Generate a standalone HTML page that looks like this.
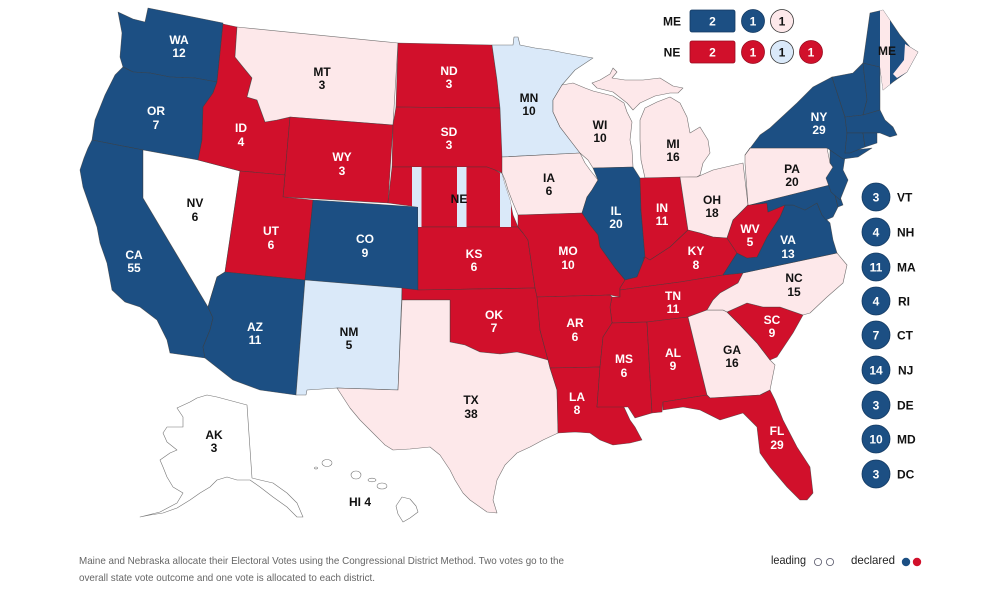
<!DOCTYPE html>
<html><head><meta charset="utf-8"><style>
html,body{margin:0;padding:0;background:#fff;width:1000px;height:595px;overflow:hidden}
svg{display:block}
.b{fill:#1c4f83}.r{fill:#d1102b}.p{fill:#fde8ea}.l{fill:#dae9f9}.w{fill:#fff}
.st polygon,.st rect,.st ellipse{stroke:#3a3a3a;stroke-width:0.6;stroke-opacity:0.7;stroke-linejoin:round}
text{font-family:"Liberation Sans",Arial,sans-serif}
.lb text{font-size:12px;font-weight:bold;text-anchor:middle}
.wt{fill:#fff}.bt{fill:#111}
</style></head><body>
<svg width="1000" height="595" viewBox="0 0 1000 595" xmlns="http://www.w3.org/2000/svg">
<defs>
<clipPath id="neclip"><polygon points="392,167 487,167 495,170 502,174 505,185 510,200 513,215 518,227 418,227 418,207 388,203"/></clipPath>
<clipPath id="meclip"><polygon points="863,63 870,13 883,10 900,35 910,47 918,52 907,72 893,82 883,90 880,67"/></clipPath>
</defs>
<g class="st">
<!-- West -->
<polygon class="b" points="118,12 133,19 145,22 148,8 223,23 217,82 195,78 170,77 150,73 133,72 123,67 120,57 122,33"/>
<polygon class="b" points="123,67 133,72 150,73 170,77 195,78 217,82 213,93 203,107 202,140 198,160 143,150 92,140 95,120 105,95 115,75"/>
<polygon class="b" points="92,140 143,150 143,198 208,307 213,318 210,330 203,347 205,358 170,353 167,340 157,320 140,307 125,302 112,290 107,263 100,243 97,227 90,207 83,187 80,170 84,158 88,148"/>
<polygon class="w" points="143,150 198,160 240,171 225,272 217,277 210,300 208,307 143,198"/>
<polygon class="r" points="223,24 237,27 235,57 243,67 252,78 247,97 257,100 265,122 277,120 290,117 285,175 240,171 198,160 202,140 203,107 213,93 217,82"/>
<polygon class="p" points="237,27 398,43 393,125 290,117 277,120 265,122 257,100 247,97 252,78 243,67 235,57"/>
<polygon class="r" points="290,117 393,125 388,203 283,197"/>
<polygon class="r" points="240,171 285,175 283,197 313,200 305,280 225,272"/>
<polygon class="b" points="313,200 418,207 418,290 305,280"/>
<polygon class="b" points="225,272 305,280 296,395 260,390 233,380 205,358 203,347 210,330 213,318 208,307 210,300 217,277"/>
<polygon class="l" points="305,280 402,288 398,390 337,388 307,390 306,395 296,395"/>
<!-- Plains -->
<polygon class="r" points="398,43 492,45 497,80 500,108 396,107"/>
<polygon class="r" points="396,107 500,108 502,120 503,160 502,173 495,170 487,167 392,167 393,125"/>
<polygon class="r" points="392,167 487,167 495,170 502,174 505,185 510,200 513,215 518,227 418,227 418,207 388,203"/>
<polygon class="r" points="418,227 518,227 523,233 528,240 535,288 418,290"/>
<polygon class="r" points="402,288 418,290 535,288 537,295 540,330 548,360 530,355 517,352 500,354 480,352 465,345 450,342 450,300 402,300"/>
<polygon class="p" points="402,300 450,300 450,342 465,345 480,352 500,354 517,352 530,355 548,360 550,368 557,390 558,433 543,440 530,447 517,453 505,465 497,480 493,500 497,513 487,512 470,500 463,493 455,480 450,470 440,455 430,447 410,449 393,450 385,445 377,437 368,428 360,420 350,408 337,388 398,390"/>
<!-- Midwest -->
<polygon class="l" points="492,45 513,45 514,37 518,37 520,45 535,48 550,50 565,53 593,58 575,70 562,85 553,100 553,112 560,127 570,140 580,153 502,157 500,108 497,80"/>
<polygon class="p" points="502,157 580,153 585,163 590,170 598,180 592,190 587,197 582,213 518,215 513,203 508,190 505,180 502,173"/>
<polygon class="p" points="562,85 573,83 585,88 593,91 613,96 624,103 627,112 632,122 630,140 632,150 633,167 593,168 588,160 580,153 570,140 560,127 553,112 553,100"/>
<polygon class="p" points="592,83 600,80 610,74 613,68 617,72 612,78 625,80 643,80 660,78 673,86 683,88 678,93 670,93 655,96 640,103 633,110 627,103 613,92 597,88"/>
<polygon class="p" points="645,108 657,102 670,97 680,103 687,117 690,133 700,127 708,140 710,153 703,163 700,175 697,177 645,178 641,160 640,140 640,120"/>
<polygon class="b" points="593,168 633,167 640,178 641,210 645,257 637,277 625,280 615,268 600,247 598,235 590,225 582,213 587,197 592,190 598,180"/>
<polygon class="r" points="640,178 680,177 688,230 670,247 650,260 643,258 645,257 641,210"/>
<polygon class="p" points="680,177 697,177 713,170 743,163 748,205 733,220 727,238 713,237 700,233 688,230"/>
<polygon class="r" points="518,215 582,213 590,225 598,235 600,247 615,268 625,280 620,288 620,297 610,295 537,297 535,288 528,240 523,233 518,227"/>
<!-- South -->
<polygon class="r" points="650,260 670,247 688,230 700,233 713,237 727,238 737,253 723,275 680,282 620,290 620,288 625,280 637,277 645,257"/>
<polygon class="r" points="620,290 680,282 723,275 743,273 738,283 720,293 713,300 707,310 688,317 647,322 612,323 610,307 612,297 620,297"/>
<polygon class="r" points="537,297 610,295 612,297 610,307 612,323 603,337 600,367 550,368 548,360 540,330"/>
<polygon class="r" points="550,368 600,367 597,407 623,405 630,420 635,427 642,440 630,443 613,445 600,440 590,433 575,432 558,433 557,390"/>
<polygon class="r" points="612,323 647,322 652,413 635,418 628,407 597,407 600,367 603,337"/>
<polygon class="r" points="647,322 688,317 707,395 663,402 662,412 652,413"/>
<polygon class="p" points="688,317 707,310 723,310 727,312 740,325 757,343 770,360 775,365 770,390 760,395 710,398 707,395"/>
<polygon class="r" points="663,402 707,395 710,398 760,395 770,390 775,400 783,420 797,447 810,467 813,493 807,500 800,500 787,487 770,467 760,453 757,427 743,413 720,420 700,410 683,407 663,410"/>
<polygon class="r" points="727,312 747,303 763,307 780,307 803,315 793,333 777,357 770,360 757,343 740,325"/>
<polygon class="p" points="743,273 837,253 847,265 843,283 827,297 810,313 803,315 780,307 763,307 747,303 727,312 723,310 707,310 713,300 720,293 738,283"/>
<polygon class="b" points="723,275 737,253 747,258 757,257 767,237 780,217 785,205 793,205 805,210 817,203 822,215 830,223 833,240 837,253 743,273"/>
<polygon class="r" points="727,238 733,220 748,205 767,203 768,212 785,205 780,217 767,237 757,257 747,258 737,253"/>
<!-- Northeast -->
<polygon class="p" points="745,163 745,155 750,148 827,148 830,163 837,173 830,185 750,205 748,205"/>
<polygon class="b" points="750,205 830,185 835,195 838,207 833,217 826,220 822,215 817,203 805,210 793,205 785,205 768,212 767,203"/>
<polygon class="b" points="830,185 837,188 843,205 838,207 835,195"/>
<polygon class="b" points="830,150 845,157 843,170 848,180 840,200 831,192 826,178 833,167 830,163"/>
<polygon class="b" points="745,155 760,135 770,128 797,103 813,87 832,77 845,117 847,133 845,153 855,150 872,148 858,157 843,159 830,150 827,148 750,148"/>
<polygon class="b" points="832,77 853,73 863,63 867,100 863,115 845,117"/>
<polygon class="b" points="863,63 880,67 880,110 870,113 863,115 867,100"/>
<polygon class="b" points="863,63 870,13 883,10 900,35 910,47 918,52 907,72 893,82 883,90 880,67"/>
<polygon class="b" points="845,117 863,115 870,113 880,110 885,120 893,127 897,135 890,137 880,133 847,133"/>
<polygon class="b" points="847,133 863,133 865,147 850,153 845,153"/>
<polygon class="b" points="863,133 877,133 877,143 865,147"/>
<!-- AK / HI -->
<polygon class="w" points="207,395 217,397 247,405 252,478 260,480 273,483 287,493 297,503 303,517 297,517 287,507 273,497 260,487 250,480 237,480 227,477 217,480 210,487 200,493 190,500 177,508 163,513 150,515 140,517 160,512 177,503 183,493 173,487 167,477 163,467 160,460 170,453 177,450 167,442 163,433 167,427 183,427 183,417 177,408 190,402 197,398"/>
<ellipse class="w" cx="316" cy="468" rx="1.5" ry="1"/>
<ellipse class="w" cx="327" cy="463" rx="5" ry="3.5"/>
<ellipse class="w" cx="356" cy="475" rx="5" ry="4"/>
<ellipse class="w" cx="372" cy="480" rx="4" ry="1.8"/>
<ellipse class="w" cx="382" cy="486" rx="5" ry="3"/>
<polygon class="w" points="402,497 410,499 416,506 418,512 410,518 403,522 398,514 396,506"/>
</g>
<!-- District stripes -->
<g clip-path="url(#neclip)">
<rect x="412" y="160" width="9.5" height="75" class="l"/>
<rect x="457" y="160" width="9.5" height="75" class="l"/>
<rect x="500" y="160" width="11" height="75" class="l"/>
</g>
<g clip-path="url(#meclip)">
<rect x="880" y="0" width="10" height="100" class="p"/>
<polygon class="p" points="905,44 918,52 907,72 897,78 893,74 904,60"/>
</g>
<!-- Labels -->
<g class="lb">
<text class="wt" x="179" y="44">WA</text><text class="wt" x="179" y="57">12</text>
<text class="wt" x="156" y="115">OR</text><text class="wt" x="156" y="129">7</text>
<text class="wt" x="134" y="259">CA</text><text class="wt" x="134" y="272">55</text>
<text class="bt" x="195" y="207">NV</text><text class="bt" x="195" y="221">6</text>
<text class="wt" x="241" y="132">ID</text><text class="wt" x="241" y="146">4</text>
<text class="bt" x="322" y="76">MT</text><text class="bt" x="322" y="89">3</text>
<text class="wt" x="342" y="161">WY</text><text class="wt" x="342" y="175">3</text>
<text class="wt" x="271" y="235">UT</text><text class="wt" x="271" y="249">6</text>
<text class="wt" x="365" y="243">CO</text><text class="wt" x="365" y="257">9</text>
<text class="wt" x="255" y="331">AZ</text><text class="wt" x="255" y="344">11</text>
<text class="bt" x="349" y="336">NM</text><text class="bt" x="349" y="349">5</text>
<text class="wt" x="449" y="75">ND</text><text class="wt" x="449" y="88">3</text>
<text class="wt" x="449" y="136">SD</text><text class="wt" x="449" y="149">3</text>
<text class="bt" x="459" y="203">NE</text>
<text class="wt" x="474" y="258">KS</text><text class="wt" x="474" y="271">6</text>
<text class="wt" x="494" y="319">OK</text><text class="wt" x="494" y="332">7</text>
<text class="bt" x="471" y="404">TX</text><text class="bt" x="471" y="418">38</text>
<text class="bt" x="529" y="102">MN</text><text class="bt" x="529" y="115">10</text>
<text class="bt" x="549" y="182">IA</text><text class="bt" x="549" y="195">6</text>
<text class="wt" x="568" y="255">MO</text><text class="wt" x="568" y="269">10</text>
<text class="wt" x="575" y="327">AR</text><text class="wt" x="575" y="341">6</text>
<text class="wt" x="577" y="401">LA</text><text class="wt" x="577" y="414">8</text>
<text class="bt" x="600" y="129">WI</text><text class="bt" x="600" y="142">10</text>
<text class="wt" x="616" y="215">IL</text><text class="wt" x="616" y="228">20</text>
<text class="bt" x="673" y="148">MI</text><text class="bt" x="673" y="161">16</text>
<text class="wt" x="662" y="212">IN</text><text class="wt" x="662" y="225">11</text>
<text class="bt" x="712" y="204">OH</text><text class="bt" x="712" y="217">18</text>
<text class="wt" x="696" y="255">KY</text><text class="wt" x="696" y="269">8</text>
<text class="wt" x="673" y="300">TN</text><text class="wt" x="673" y="313">11</text>
<text class="wt" x="624" y="363">MS</text><text class="wt" x="624" y="377">6</text>
<text class="wt" x="673" y="357">AL</text><text class="wt" x="673" y="370">9</text>
<text class="bt" x="732" y="354">GA</text><text class="bt" x="732" y="367">16</text>
<text class="wt" x="777" y="435">FL</text><text class="wt" x="777" y="449">29</text>
<text class="wt" x="772" y="324">SC</text><text class="wt" x="772" y="337">9</text>
<text class="bt" x="794" y="282">NC</text><text class="bt" x="794" y="296">15</text>
<text class="wt" x="788" y="244">VA</text><text class="wt" x="788" y="258">13</text>
<text class="wt" x="750" y="233">WV</text><text class="wt" x="750" y="246">5</text>
<text class="bt" x="792" y="173">PA</text><text class="bt" x="792" y="186">20</text>
<text class="wt" x="819" y="121">NY</text><text class="wt" x="819" y="134">29</text>
<text class="bt" x="887" y="55">ME</text>
<text class="bt" x="214" y="439">AK</text><text class="bt" x="214" y="452">3</text>
<text class="bt" x="360" y="506">HI 4</text>
</g>
<!-- ME / NE legend -->
<g>
<text x="672" y="25.5" font-size="12" font-weight="bold" text-anchor="middle" fill="#111">ME</text>
<rect x="690" y="10" width="45" height="22" rx="2" fill="#1c4f83" stroke="#143a62" stroke-width="0.8"/>
<text x="712.5" y="25.5" font-size="12" font-weight="bold" text-anchor="middle" fill="#fff">2</text>
<circle cx="753" cy="21" r="11.5" fill="#1c4f83" stroke="#143a62" stroke-width="0.8"/>
<text x="753" y="25.5" font-size="12" font-weight="bold" text-anchor="middle" fill="#fff">1</text>
<circle cx="782" cy="21" r="11.5" fill="#fde8ea" stroke="#333" stroke-width="0.8"/>
<text x="782" y="25.5" font-size="12" font-weight="bold" text-anchor="middle" fill="#111">1</text>
<text x="672" y="56.5" font-size="12" font-weight="bold" text-anchor="middle" fill="#111">NE</text>
<rect x="690" y="41" width="45" height="22" rx="2" fill="#d1102b" stroke="#9a0b20" stroke-width="0.8"/>
<text x="712.5" y="56.5" font-size="12" font-weight="bold" text-anchor="middle" fill="#fff">2</text>
<circle cx="753" cy="52" r="11.5" fill="#d1102b" stroke="#9a0b20" stroke-width="0.8"/>
<text x="753" y="56.5" font-size="12" font-weight="bold" text-anchor="middle" fill="#fff">1</text>
<circle cx="782" cy="52" r="11.5" fill="#dae9f9" stroke="#333" stroke-width="0.8"/>
<text x="782" y="56.5" font-size="12" font-weight="bold" text-anchor="middle" fill="#111">1</text>
<circle cx="811" cy="52" r="11.5" fill="#d1102b" stroke="#9a0b20" stroke-width="0.8"/>
<text x="811" y="56.5" font-size="12" font-weight="bold" text-anchor="middle" fill="#fff">1</text>
</g>
<!-- Small states legend -->
<g font-size="12" font-weight="bold">
<g fill="#1c4f83" stroke="#143a62" stroke-width="0.8">
<circle cx="876" cy="197" r="14"/><circle cx="876" cy="232" r="14"/><circle cx="876" cy="267" r="14"/>
<circle cx="876" cy="301" r="14"/><circle cx="876" cy="335" r="14"/><circle cx="876" cy="370" r="14"/>
<circle cx="876" cy="405" r="14"/><circle cx="876" cy="439" r="14"/><circle cx="876" cy="474" r="14"/>
</g>
<g fill="#fff" text-anchor="middle">
<text x="876" y="201.5">3</text><text x="876" y="236.5">4</text><text x="876" y="271.5">11</text>
<text x="876" y="305.5">4</text><text x="876" y="339.5">7</text><text x="876" y="374.5">14</text>
<text x="876" y="409.5">3</text><text x="876" y="443.5">10</text><text x="876" y="478.5">3</text>
</g>
<g fill="#111">
<text x="897" y="201.5">VT</text><text x="897" y="236.5">NH</text><text x="897" y="271.5">MA</text>
<text x="898" y="305.5">RI</text><text x="897" y="339.5">CT</text><text x="898" y="374.5">NJ</text>
<text x="897" y="409.5">DE</text><text x="897" y="443.5">MD</text><text x="897" y="478.5">DC</text>
</g>
</g>
<!-- Footnote -->
<text x="79" y="564" font-size="10.5" fill="#666" textLength="485" lengthAdjust="spacingAndGlyphs">Maine and Nebraska allocate their Electoral Votes using the Congressional District Method. Two votes go to the</text>
<text x="79" y="581" font-size="10.5" fill="#666" textLength="296" lengthAdjust="spacingAndGlyphs">overall state vote outcome and one vote is allocated to each district.</text>
<text x="771" y="564" font-size="12" fill="#222" textLength="35" lengthAdjust="spacingAndGlyphs">leading</text>
<circle cx="818" cy="562" r="3.6" fill="#fff" stroke="#667" stroke-width="0.9"/>
<circle cx="830" cy="562" r="3.6" fill="#fff" stroke="#667" stroke-width="0.9"/>
<text x="851" y="564" font-size="12" fill="#222" textLength="44" lengthAdjust="spacingAndGlyphs">declared</text>
<circle cx="906" cy="562" r="4.2" fill="#1c4f83"/>
<circle cx="917" cy="562" r="4.2" fill="#d1102b"/>
</svg>
</body></html>
